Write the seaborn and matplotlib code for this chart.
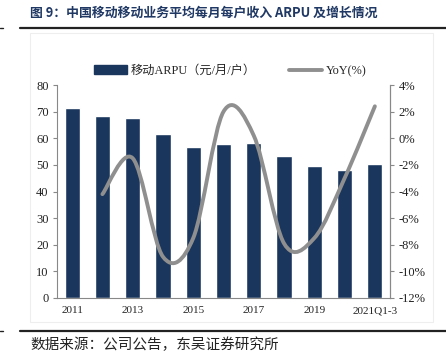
import matplotlib
matplotlib.use("Agg")
import matplotlib.pyplot as plt
import seaborn as sns
import pandas as pd
import numpy as np
from matplotlib.path import Path
from matplotlib.patches import PathPatch, Rectangle
from matplotlib.lines import Line2D

categories = ["2011", "2012", "2013", "2014", "2015", "2016", "2017", "2018", "2019", "2020", "2021Q1-3"]
arpu = [71.5, 68.5, 67.5, 61.5, 56.9, 58.0, 58.1, 53.5, 49.5, 48.0, 50.5]
yoy = [None, -4.2, -1.5, -8.9, -7.5, 2.0, 0.2, -7.9, -7.5, -3.0, 2.4]
xtick_labels = ["2011", "", "2013", "", "2015", "", "2017", "", "2019", "", "2021Q1-3"]
left_ticks = [0, 10, 20, 30, 40, 50, 60, 70, 80]
right_ticks = [-12, -10, -8, -6, -4, -2, 0, 2, 4]

sns.set_style("white")
plt.rcParams['font.family'] = ['Liberation Serif', 'Noto Sans CJK SC']

BAR = "#1a365d"
LINE = "#8f8f8f"
TXT = "#222222"

fig = plt.figure(figsize=(4.46, 3.56), dpi=100)
# faint panel
fig.add_artist(Rectangle((30/446, 1-322/356), (433-30)/446, (322-33)/356,
                         transform=fig.transFigure, facecolor="none",
                         edgecolor="#eeeeee", lw=0.8, zorder=-5))
ax = fig.add_axes([57/446, 1-298/356, (390-57)/446, (298-85)/356])
ax.patch.set_alpha(0)

df = pd.DataFrame({"cat": categories, "arpu": arpu})
sns.barplot(data=df, x="cat", y="arpu", color=BAR, saturation=1, width=0.5, ax=ax)
ax.set_xlim(-0.5, len(categories) - 0.5)
ax.set_ylim(0, 80)
ax.set_yticks(left_ticks)
ax.set_xlabel("")
ax.set_ylabel("")
ax.set_xticks(range(len(categories)))
ax.set_xticklabels(xtick_labels)
ax.set_xticks(np.arange(-0.5, len(categories), 1.0), minor=True)
ax.tick_params(axis="x", which="major", length=0, pad=6, labelsize=8, colors=TXT)
ax.tick_params(axis="x", which="minor", length=3, direction="in", color="#888888")
ax.tick_params(axis="y", length=3, direction="out", labelsize=9, colors=TXT, color="#888888", pad=3)
for s in ["top"]:
    ax.spines[s].set_visible(False)
for s in ["left", "bottom", "right"]:
    ax.spines[s].set_color("#888888")
    ax.spines[s].set_linewidth(0.8)

ax2 = ax.twinx()
ax2.set_ylim(-12, 4)
ax2.set_yticks(right_ticks)
ax2.set_yticklabels([f"{t}%" for t in right_ticks])
ax2.tick_params(axis="y", length=3, direction="out", labelsize=9, colors=TXT, color="#888888", pad=3)
for s in ["top", "left", "bottom"]:
    ax2.spines[s].set_visible(False)
ax2.spines["right"].set_color("#888888")
ax2.spines["right"].set_linewidth(0.8)

# smoothed line (Excel-style bezier) through the YoY points
pts = [(i, v) for i, v in enumerate(yoy) if v is not None]
xs = np.array([p[0] for p in pts], float)
ys = np.array([p[1] for p in pts], float)
disp = ax2.transData.transform(np.column_stack([xs, ys]))
verts = [tuple(disp[0])]
codes = [Path.MOVETO]
n = len(disp)
t = 1/6
for i in range(n - 1):
    p0 = disp[i - 1] if i > 0 else disp[i]
    p1 = disp[i]
    p2 = disp[i + 1]
    p3 = disp[i + 2] if i + 2 < n else disp[i + 1]
    c1 = p1 + (p2 - p0) * t
    c2 = p2 - (p3 - p1) * t
    verts += [tuple(c1), tuple(c2), tuple(p2)]
    codes += [Path.CURVE4] * 3
path = Path(ax2.transData.inverted().transform(np.array(verts)), codes)
ax2.add_patch(PathPatch(path, facecolor="none", edgecolor=LINE, lw=2.8,
                        capstyle="round", joinstyle="round"))

# legend
handles = [Rectangle((0, 0), 1, 1, facecolor=BAR, edgecolor=BAR),
           Line2D([0], [0], color=LINE, lw=2.8)]
labels = ["移动ARPU（元/月/户）", "YoY(%)"]
fig.legend(handles, labels, loc="center", bbox_to_anchor=(230/446, 1-71/356), ncol=2,
           frameon=False, handlelength=2.7, handleheight=0.7,
           columnspacing=2.7, handletextpad=0.3,
           prop={"family": ["Liberation Serif", "Noto Sans CJK SC"], "size": 8.8})

# title and source
fig.text(30/446, 1-13/356, "图 9：中国移动移动业务平均每月每户收入 ARPU 及增长情况",
         ha="left", va="center", fontsize=9.3, fontweight="bold", color="#1f3864",
         family=["Noto Sans CJK SC", "Liberation Serif"])
fig.add_artist(Line2D([20/446, 1.0], [1-28/356, 1-28/356], transform=fig.transFigure,
                      color="#222222", lw=1.6))
fig.add_artist(Line2D([0, 3/446], [1-28/356, 1-28/356], transform=fig.transFigure,
                      color="#222222", lw=1.0))
fig.add_artist(Line2D([20/446, 1.0], [1-331/356, 1-331/356], transform=fig.transFigure,
                      color="#222222", lw=1.6))
fig.add_artist(Line2D([0, 3/446], [1-331/356, 1-331/356], transform=fig.transFigure,
                      color="#222222", lw=1.0))
fig.text(30/446, 1-345/356, "数据来源：公司公告，东吴证券研究所", ha="left", va="center",
         fontsize=10.5, color="#222222", family=["Noto Sans CJK SC", "Liberation Serif"])

fig.savefig("out.png", dpi=100)
